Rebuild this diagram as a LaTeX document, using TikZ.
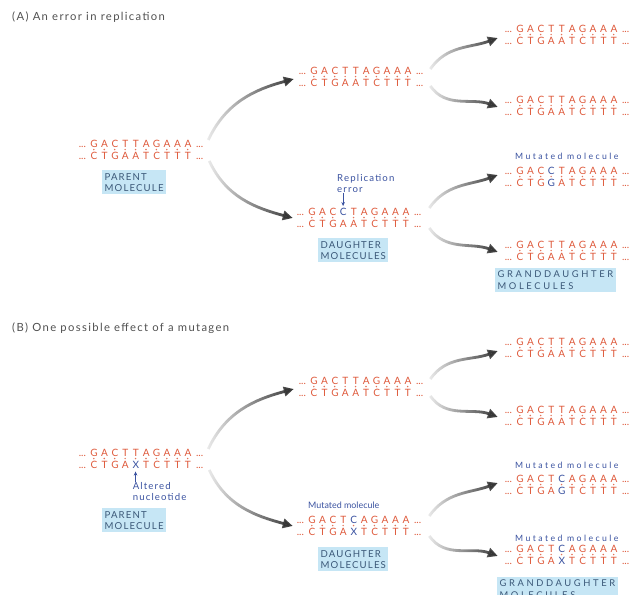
\documentclass[tikz,border=0pt]{standalone}
\usepackage{fontspec}
\setmainfont{Lato}
\newfontfamily\tagfont[LetterSpace=12]{Lato}
\newfontfamily\widefont[LetterSpace=28]{Lato}
\usetikzlibrary{arrows.meta,calc,fadings}
\definecolor{dnared}{HTML}{DE5A3C}
\definecolor{dnablue}{HTML}{3A52A0}
\definecolor{tagblue}{HTML}{3B5878}
\definecolor{tagfill}{HTML}{C6E6F5}
\definecolor{tgrey}{HTML}{505050}

% one base per fixed box, lower case = changed base (blue)
\newlength\bw \setlength\bw{8.9pt}
\newcommand\dnaend{\makebox[11pt]{...}}
\def\dnabase#1{\ifnum`#1>96 \makebox[\bw]{\color{dnablue}\uppercase{#1}}\else\makebox[\bw]{#1}\fi}
\def\dnaseq#1{\ifx#1\relax\else\dnabase{#1}\expandafter\dnaseq\fi}
\newcommand\dna[2]{\dnaend\dnaseq#1\relax\dnaend\\\dnaend\dnaseq#2\relax\dnaend}
% base pair dots between the two strands of a node
\newcommand\pairdots[2]{\foreach \k in {#2}
  \fill[dnared!85] ($(#1.west)+(11pt+\k*\bw-0.5*\bw,0.4pt)$) circle (0.7pt);}

\tikzfading[name=growfade, left color=transparent!90, right color=transparent!0]
\tikzset{
  strand/.style={inner sep=0pt, align=center, text=dnared, font=\fontsize{8.6}{10.6}\selectfont},
  tagbox/.style={fill=tagfill, text=tagblue, align=left, anchor=north west,
    inner xsep=2pt, inner ysep=2.5pt, font=\tagfont\fontsize{8.2}{9.6}\selectfont},
  widetag/.style={tagbox, font=\widefont\fontsize{8}{9.6}\selectfont},
  note/.style={text=dnablue, align=left, inner sep=0pt, font=\tagfont\fontsize{8.2}{9.4}\selectfont},
  widenote/.style={note, font=\widefont\fontsize{7.4}{8.6}\selectfont},
  title/.style={text=tgrey, anchor=west, inner sep=0pt, font=\tagfont\fontsize{9.6}{11}\selectfont},
  notearrow/.style={draw=dnablue, line width=0.6pt, -{Stealth[length=3.5pt,width=3pt]}},
  growarrow/.style={draw=black!80, line width=2.4pt, path fading=growfade,
    -{Triangle[length=8.5pt,width=8pt]}}
}

\begin{document}
\begin{tikzpicture}[x=0.03cm, y=-0.03cm]
  \useasboundingbox (0,0) rectangle (631,595);
  \clip (0,0) rectangle (631,595);

  % (A) replication error
  \node[title] (titleA) at (12,17) {(A) An error in replication};
  \node[strand] (pA) at (141,150) {\dna{GACTTAGAAA}{CTGAATCTTT}};
  \node[tagbox] (pAtag) at (102,170) {PARENT\\MOLECULE};
  \node[strand] (dA1) at (361,77) {\dna{GACTTAGAAA}{CTGAATCTTT}};
  \node[strand] (dA2) at (359,218) {\dna{GACcTAGAAA}{CTGAATCTTT}};
  \node[note, anchor=south west] (errA) at (337,193) {Replication\\error};
  \coordinate (cA) at ($(dA2.north west)+(3.5*\bw+11pt,1.5pt)$);
  \draw[notearrow] (cA |- errA.south) -- (cA);
  \node[tagbox] (dAtag) at (318,238) {DAUGHTER\\MOLECULES};
  \node[strand] (gA1) at (567,35) {\dna{GACTTAGAAA}{CTGAATCTTT}};
  \node[strand] (gA2) at (567,106) {\dna{GACTTAGAAA}{CTGAATCTTT}};
  \node[widenote, anchor=west] (mA) at (515,156) {Mutated molecule};
  \node[strand] (gA3) at (567,177) {\dna{GACcTAGAAA}{CTGgATCTTT}};
  \node[strand] (gA4) at (567,251) {\dna{GACTTAGAAA}{CTGAATCTTT}};
  \node[widetag] (gAtag) at (495,268) {GRANDDAUGHTER\\MOLECULES};
  \pairdots{pA}{1,...,10} \pairdots{dA1}{1,...,10} \pairdots{dA2}{1,2,3,5,6,7,8,9,10}
  \pairdots{gA1}{1,...,10} \pairdots{gA2}{1,...,10} \pairdots{gA3}{1,...,10}
  \pairdots{gA4}{1,...,10}

  \draw[growarrow] ($(pA.east)+(2,-10)$) to[out=65, in=195] ($(dA1.west)+(-2,2)$);
  \draw[growarrow] ($(pA.east)+(3,11)$) to[out=-65, in=165] ($(dA2.west)+(-1,0)$);
  \draw[growarrow] ($(dA1.east)+(4,-8)$) to[out=55, in=200] ($(gA1.west)+(-4,3)$);
  \draw[growarrow] ($(dA1.east)+(4,9)$) to[out=-55, in=160] ($(gA2.west)+(-4,1)$);
  \draw[growarrow] ($(dA2.east)+(5,-10)$) to[out=55, in=200] ($(gA3.west)+(-4,-2)$);
  \draw[growarrow] ($(dA2.east)+(5,10)$) to[out=-55, in=160] ($(gA4.west)+(-4,1)$);

  % (B) mutagen
  \node[title] (titleB) at (12,328) {(B) One possible effect of a mutagen};
  \node[strand] (pB) at (141,459) {\dna{GACTTAGAAA}{CTGAxTCTTT}};
  \coordinate (cB) at ($(pB.south west)+(4.5*\bw+11pt,-2pt)$);
  \node[note, anchor=north west] (altB) at ($(cB)+(-3,11)$) {Altered\\nucleotide};
  \draw[notearrow] (cB |- altB.north) -- (cB);
  \node[tagbox] (pBtag) at (102,508) {PARENT\\MOLECULE};
  \node[strand] (dB1) at (361,387) {\dna{GACTTAGAAA}{CTGAATCTTT}};
  \node[note, anchor=west, font=\fontsize{7.6}{9}\selectfont] (mB) at (308,505) {Mutated molecule};
  \node[strand] (dB2) at (359,526) {\dna{GACTcAGAAA}{CTGAxTCTTT}};
  \node[tagbox] (dBtag) at (318,547) {DAUGHTER\\MOLECULES};
  \node[strand] (gB1) at (567,348) {\dna{GACTTAGAAA}{CTGAATCTTT}};
  \node[strand] (gB2) at (567,416) {\dna{GACTTAGAAA}{CTGAATCTTT}};
  \node[widenote, anchor=west] (mB1) at (515,465) {Mutated molecule};
  \node[strand] (gB3) at (567,485) {\dna{GACTcAGAAA}{CTGAgTCTTT}};
  \node[widenote, anchor=west] (mB2) at (515,538) {Mutated molecule};
  \node[strand] (gB4) at (567,555) {\dna{GACTcAGAAA}{CTGAxTCTTT}};
  \node[widetag] (gBtag) at (497,577) {GRANDDAUGHTER\\MOLECULES};
  \pairdots{pB}{1,...,10} \pairdots{dB1}{1,...,10} \pairdots{dB2}{1,...,10}
  \pairdots{gB1}{1,...,10} \pairdots{gB2}{1,...,10} \pairdots{gB3}{1,...,10}
  \pairdots{gB4}{1,...,10}

  \draw[growarrow] ($(pB.east)+(2,-10)$) to[out=65, in=195] ($(dB1.west)+(-2,2)$);
  \draw[growarrow] ($(pB.east)+(3,11)$) to[out=-65, in=165] ($(dB2.west)+(-1,0)$);
  \draw[growarrow] ($(dB1.east)+(4,-8)$) to[out=55, in=200] ($(gB1.west)+(-4,3)$);
  \draw[growarrow] ($(dB1.east)+(4,9)$) to[out=-55, in=160] ($(gB2.west)+(-4,1)$);
  \draw[growarrow] ($(dB2.east)+(5,-10)$) to[out=55, in=200] ($(gB3.west)+(-4,-2)$);
  \draw[growarrow] ($(dB2.east)+(5,10)$) to[out=-55, in=160] ($(gB4.west)+(-4,1)$);
\end{tikzpicture}
\end{document}
